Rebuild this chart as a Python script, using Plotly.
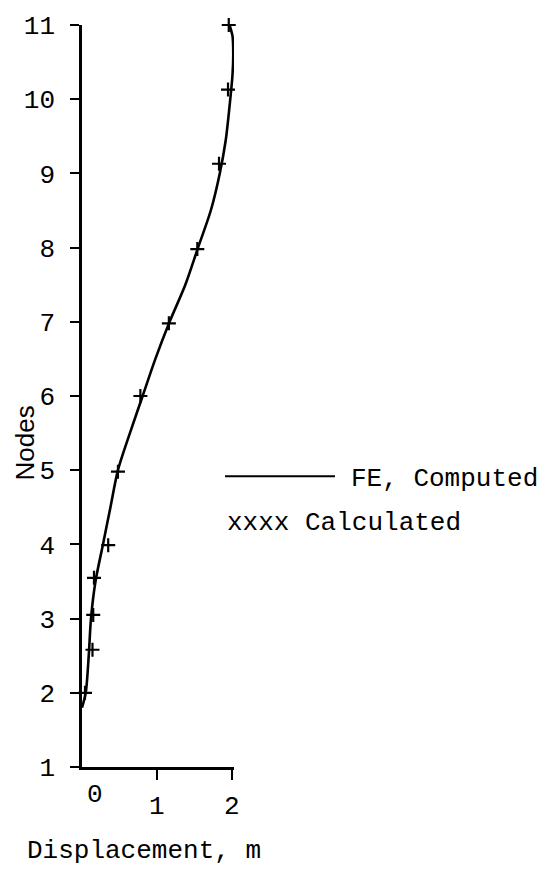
import plotly.graph_objects as go

# FE computed displacement profile (displacement in m, node number)
fe_disp = [0.00, 0.05, 0.09, 0.12, 0.18, 0.28, 0.38, 0.48, 0.64, 0.81, 0.98, 1.17,
           1.38, 1.55, 1.72, 1.84, 1.92, 1.97, 2.01, 2.02, 2.01, 1.97]
fe_node = [1.80, 2.00, 2.50, 3.00, 3.50, 4.00, 4.50, 5.00, 5.50, 6.00, 6.50, 7.00,
           7.50, 8.00, 8.50, 9.00, 9.45, 9.90, 10.33, 10.60, 10.85, 11.00]

# Hand-calculated values
calc_disp = [0.04, 0.14, 0.15, 0.16, 0.35, 0.48, 0.78, 1.16, 1.54, 1.83, 1.95, 1.96]
calc_node = [2.00, 2.58, 3.05, 3.55, 3.99, 4.98, 6.00, 6.98, 7.98, 9.13, 10.13, 11.00]

node_ticks = list(range(1, 12))
disp_ticks = [0, 1, 2]
disp_tick_text = ["0", "1", "2"]

W, H = 548, 873
ML, MR, MT, MB = 82, 314, 17, 106
PW, PH = W - ML - MR, H - MT - MB

MONO = "Liberation Mono, Courier New, monospace"
SANS = "Liberation Sans, Arial, sans-serif"
FS = 26


def px(x):
    return (x - ML) / PW


def py(y):
    return (H - MB - y) / PH


fig = go.Figure()

fig.add_trace(go.Scatter(
    x=fe_disp, y=fe_node, mode="lines",
    line=dict(color="black", width=2.6, shape="spline", smoothing=0.8),
    cliponaxis=False, showlegend=False,
))

fig.add_trace(go.Scatter(
    x=calc_disp, y=calc_node, mode="markers",
    marker=dict(symbol="cross-thin", size=10, line=dict(color="black", width=2.2)),
    cliponaxis=False, showlegend=False,
))

annotations = [
    # zero label of the displacement axis, set just right of the corner
    dict(x=disp_ticks[0], y=0, xref="x", yref="paper", text=disp_tick_text[0],
         showarrow=False, xanchor="center", yanchor="top", xshift=13, yshift=-11,
         font=dict(family=MONO, size=FS, color="black")),
    dict(x=px(25), y=py(852), xref="paper", yref="paper", text="Displacement, m",
         showarrow=False, xanchor="left", yanchor="middle",
         font=dict(family=MONO, size=FS, color="black")),
    dict(x=px(25), y=py(440), xref="paper", yref="paper", text="Nodes",
         showarrow=False, textangle=-90, xanchor="center", yanchor="middle",
         font=dict(family=SANS, size=26, color="black")),
    dict(x=px(349), y=py(476), xref="paper", yref="paper", text="FE, Computed",
         showarrow=False, xanchor="left", yanchor="middle",
         font=dict(family=MONO, size=FS, color="black")),
    dict(x=px(225), y=py(520), xref="paper", yref="paper", text="xxxx Calculated",
         showarrow=False, xanchor="left", yanchor="middle",
         font=dict(family=MONO, size=FS, color="black")),
]

shapes = [
    dict(type="line", xref="paper", yref="paper",
         x0=px(225), x1=px(335), y0=py(473), y1=py(473),
         line=dict(color="black", width=2)),
]

fig.update_layout(
    width=W, height=H,
    margin=dict(l=ML, r=MR, t=MT, b=MB),
    paper_bgcolor="white", plot_bgcolor="white",
    showlegend=False,
    annotations=annotations,
    shapes=shapes,
    xaxis=dict(
        range=[0, 2.03], showgrid=False, zeroline=False,
        showline=True, linecolor="black", linewidth=2.5,
        ticks="outside", ticklen=10, tickwidth=2, tickcolor="black",
        tickvals=disp_ticks[1:], ticktext=disp_tick_text[1:],
        ticklabelstandoff=3,
        tickfont=dict(family=MONO, size=FS, color="black"),
    ),
    yaxis=dict(
        range=[1, 11], showgrid=False, zeroline=False,
        showline=True, linecolor="black", linewidth=2.5,
        ticks="outside", ticklen=9, tickwidth=2, tickcolor="black",
        tickvals=node_ticks, ticktext=[str(n) for n in node_ticks],
        ticklabelstandoff=10,
        tickfont=dict(family=MONO, size=FS, color="black"),
    ),
)

fig.write_html("out.html")
